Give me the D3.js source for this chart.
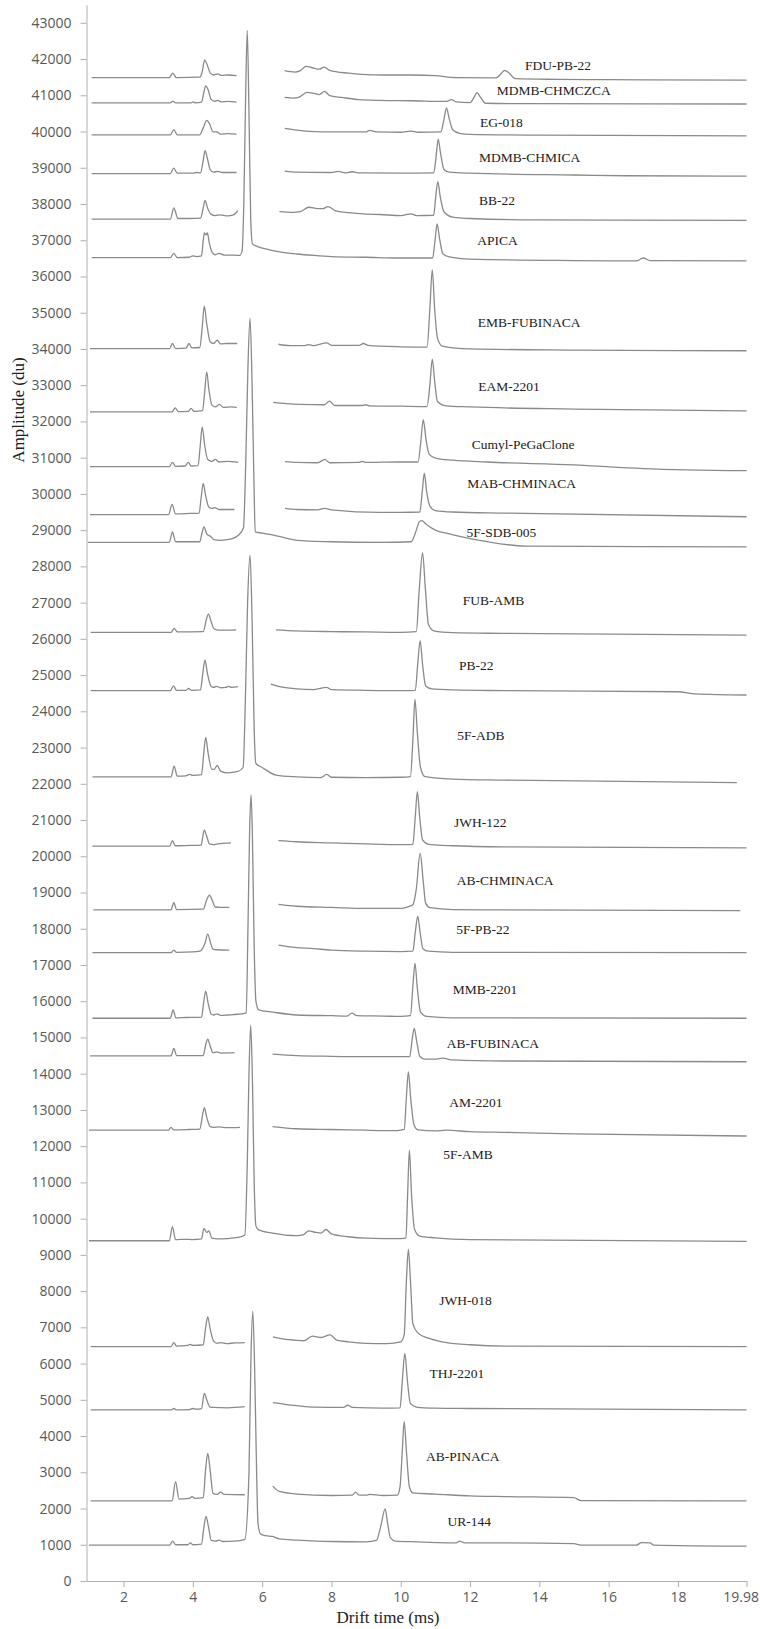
<!DOCTYPE html>
<html>
<head>
<meta charset="utf-8">
<script src="https://cdn.jsdelivr.net/npm/d3@7"></script>
<style>
  html, body { margin: 0; padding: 0; background: #fff; }
  svg { display: block; }
</style>
</head>
<body>
<svg id="chart" width="760" height="1629"></svg>
<script>
// Ion mobility spectra of 25 synthetic cannabinoids, stacked by amplitude offset.
// Each trace: list of segments, each segment a list of [drift time (ms), amplitude (du)].

const compoundNames = [
  "FDU-PB-22", "MDMB-CHMCZCA", "EG-018", "MDMB-CHMICA", "BB-22", "APICA",
  "EMB-FUBINACA", "EAM-2201", "Cumyl-PeGaClone", "MAB-CHMINACA", "5F-SDB-005",
  "FUB-AMB", "PB-22", "5F-ADB", "JWH-122", "AB-CHMINACA", "5F-PB-22", "MMB-2201",
  "AB-FUBINACA", "AM-2201", "5F-AMB", "JWH-018", "THJ-2201", "AB-PINACA", "UR-144"
];

const fduPb22 = [
  [[1.08,41490],[3.32,41490],[3.42,41610],[3.52,41490],[4.2,41500],[4.27,41650],[4.34,41980],[4.41,41850],[4.5,41620],[4.6,41560],[4.72,41590],[4.82,41550],[5.0,41560],[5.26,41540]],
  [[6.65,41680],[6.95,41640],[7.1,41680],[7.27,41800],[7.45,41760],[7.65,41720],[7.79,41780],[7.95,41690],[8.5,41610],[9.0,41570],[9.5,41560],[10.3,41560],[11.0,41540],[11.6,41490],[12.75,41480],[12.9,41600],[13.0,41690],[13.12,41620],[13.3,41460],[14.5,41440],[16.0,41430],[19.98,41420]]
];
const mdmbChmczca = [
  [[1.08,40790],[3.35,40790],[3.42,40840],[3.5,40790],[3.95,40790],[4.0,40820],[4.08,40790],[4.25,40810],[4.31,41050],[4.37,41260],[4.44,41150],[4.52,40900],[4.62,40830],[4.72,40860],[4.82,40820],[5.0,40830],[5.26,40810]],
  [[6.65,40940],[6.9,40920],[7.05,40940],[7.3,41080],[7.5,41050],[7.65,41020],[7.8,41110],[7.95,40990],[8.3,40940],[8.8,40880],[9.4,40860],[10.3,40850],[11.3,40830],[11.47,40880],[11.6,40820],[12.0,40800],[12.12,40950],[12.2,41070],[12.3,40950],[12.45,40780],[13.5,40770],[19.98,40760]]
];
const eg018 = [
  [[1.08,39910],[3.35,39910],[3.45,40050],[3.55,39910],[4.2,39910],[4.3,40100],[4.4,40310],[4.48,40220],[4.58,39990],[4.7,39990],[4.8,39930],[5.0,39940],[5.26,39930]],
  [[6.65,40090],[7.0,40040],[7.5,40000],[8.0,39990],[9.0,39990],[9.1,40030],[9.3,39990],[10.0,39980],[10.3,40010],[10.5,39980],[11.16,39990],[11.24,40300],[11.32,40650],[11.4,40350],[11.5,40050],[11.7,39950],[12.0,39920],[14.0,39900],[19.98,39880]]
];
const mdmbChmica = [
  [[1.08,38840],[3.35,38840],[3.45,38990],[3.55,38850],[4.0,38850],[4.1,38870],[4.22,38860],[4.29,39150],[4.35,39470],[4.42,39250],[4.5,38950],[4.6,38880],[4.72,38900],[4.85,38870],[5.26,38870]],
  [[6.65,38910],[7.0,38880],[8.0,38870],[8.2,38900],[8.4,38860],[8.6,38890],[8.8,38860],[10.0,38850],[10.95,38860],[11.02,39300],[11.08,39790],[11.15,39400],[11.25,38950],[11.4,38880],[12.0,38850],[15.0,38800],[16.5,38780],[19.98,38770]]
];
const bb22 = [
  [[1.08,37580],[3.35,37580],[3.45,37890],[3.57,37600],[3.9,37600],[4.22,37610],[4.29,37850],[4.35,38100],[4.42,37900],[4.52,37720],[4.65,37680],[4.78,37700],[5.0,37670],[5.15,37690],[5.25,37760],[5.3,37820]],
  [[6.5,37790],[6.9,37770],[7.1,37790],[7.35,37910],[7.6,37870],[7.75,37870],[7.9,37930],[8.1,37820],[8.5,37760],[9.0,37720],[9.4,37710],[10.0,37680],[10.3,37730],[10.45,37680],[10.95,37690],[11.01,38200],[11.07,38620],[11.14,38200],[11.25,37780],[11.5,37640],[12.0,37600],[14.0,37560],[19.98,37550]]
];
const apica = [
  [[1.08,36520],[3.35,36520],[3.45,36640],[3.55,36520],[3.9,36530],[4.0,36570],[4.1,36550],[4.25,36570],[4.3,37000],[4.33,37200],[4.38,37150],[4.42,37200],[4.47,36950],[4.55,36680],[4.65,36600],[4.75,36640],[4.9,36590],[5.2,36590],[5.35,36580],[5.42,36700],[5.47,38000],[5.52,40800],[5.57,42790],[5.62,40500],[5.67,37600],[5.72,36900],[5.85,36830],[6.1,36760],[6.5,36680],[7.0,36620],[7.5,36580],[8.0,36550],[9.0,36530],[10.0,36510],[10.92,36510],[10.99,37000],[11.05,37450],[11.12,37050],[11.22,36620],[11.4,36540],[12.0,36480],[15.0,36440],[16.8,36430],[17.0,36510],[17.2,36440],[19.98,36430]]
];
const embFubinaca = [
  [[1.03,34010],[3.33,34010],[3.41,34150],[3.5,34010],[3.8,34020],[3.89,34150],[3.97,34030],[4.2,34040],[4.27,34600],[4.33,35180],[4.4,34700],[4.5,34200],[4.6,34150],[4.7,34240],[4.8,34140],[5.0,34150],[5.28,34150]],
  [[6.47,34130],[6.8,34090],[7.2,34090],[7.34,34120],[7.5,34090],[7.86,34170],[8.0,34100],[8.8,34100],[8.92,34150],[9.05,34100],[10.0,34060],[10.76,34050],[10.84,35100],[10.91,36180],[10.98,35100],[11.06,34300],[11.2,34080],[12.0,34000],[15.0,33970],[19.98,33950]]
];
const eam2201 = [
  [[1.03,32265],[3.4,32265],[3.49,32375],[3.58,32270],[3.87,32280],[3.95,32360],[4.03,32280],[4.28,32300],[4.34,32800],[4.4,33370],[4.46,32900],[4.55,32450],[4.65,32400],[4.77,32470],[4.88,32390],[5.1,32400],[5.27,32390]],
  [[6.32,32525],[6.7,32490],[7.1,32470],[7.8,32460],[7.94,32560],[8.1,32440],[8.9,32440],[9.0,32460],[9.1,32430],[10.0,32420],[10.76,32410],[10.84,33000],[10.91,33720],[10.98,33100],[11.06,32550],[11.3,32430],[12.0,32400],[15.0,32340],[19.98,32290]]
];
const cumylPegaclone = [
  [[1.03,30750],[3.32,30750],[3.41,30870],[3.5,30760],[3.78,30770],[3.87,30870],[3.95,30770],[4.15,30780],[4.21,31300],[4.27,31850],[4.34,31350],[4.43,30950],[4.55,30900],[4.65,30950],[4.75,30880],[5.0,30900],[5.31,30870]],
  [[6.66,30890],[7.0,30870],[7.6,30860],[7.81,30950],[7.95,30860],[8.8,30870],[8.88,30900],[9.0,30870],[10.0,30880],[10.5,30880],[10.58,31450],[10.65,32050],[10.73,31500],[10.82,31100],[11.0,30990],[11.5,30930],[12.5,30880],[15.0,30800],[17.0,30700],[19.98,30640]]
];
const mabChminaca = [
  [[1.03,29430],[3.3,29430],[3.4,29710],[3.5,29450],[3.9,29460],[4.18,29470],[4.24,29900],[4.3,30290],[4.37,29950],[4.46,29640],[4.55,29600],[4.63,29620],[4.75,29570],[5.2,29570]],
  [[6.66,29600],[7.0,29570],[7.6,29560],[7.8,29600],[8.0,29560],[9.4,29490],[10.0,29490],[10.55,29500],[10.62,30050],[10.68,30570],[10.75,30050],[10.85,29650],[11.0,29540],[11.5,29500],[13.0,29470],[19.98,29370]]
];
const sdb005 = [
  [[0.97,28660],[3.32,28660],[3.41,28950],[3.5,28680],[4.2,28680],[4.26,28900],[4.32,29090],[4.4,28900],[4.52,28820],[4.6,28740],[4.8,28720],[5.0,28740],[5.16,28770],[5.3,28850],[5.46,29060],[5.53,31000],[5.59,33500],[5.65,34850],[5.71,33000],[5.76,30500],[5.8,28950],[6.0,28920],[6.3,28870],[7.0,28720],[8.0,28680],[9.4,28660],[10.3,28680],[10.45,29000],[10.53,29220],[10.6,29260],[10.75,29150],[11.0,29000],[11.4,28900],[11.8,28810],[12.5,28680],[13.6,28560],[19.98,28540]]
];
const fubAmb = [
  [[1.05,26180],[3.37,26180],[3.46,26290],[3.55,26190],[4.3,26200],[4.38,26500],[4.45,26680],[4.52,26500],[4.6,26290],[4.68,26250],[4.8,26240],[5.25,26250]],
  [[6.4,26250],[7.0,26220],[8.0,26200],[9.0,26190],[10.0,26180],[10.45,26200],[10.53,27300],[10.63,28375],[10.71,27400],[10.8,26400],[10.95,26220],[11.5,26170],[13.0,26150],[19.98,26100]]
];
const pb22 = [
  [[1.05,24570],[3.35,24570],[3.44,24700],[3.53,24580],[3.8,24580],[3.88,24630],[3.96,24580],[4.22,24590],[4.28,25000],[4.35,25410],[4.42,25050],[4.52,24700],[4.6,24660],[4.68,24690],[4.8,24650],[4.95,24660],[5.03,24690],[5.12,24660],[5.3,24680]],
  [[6.25,24750],[6.5,24680],[7.0,24620],[7.5,24600],[7.86,24660],[8.0,24600],[9.0,24580],[10.0,24570],[10.42,24580],[10.49,25300],[10.56,25950],[10.63,25300],[10.72,24700],[10.9,24620],[11.5,24590],[13.0,24570],[18.0,24540],[18.5,24480],[19.98,24450]]
];
const adb5f = [
  [[1.1,22190],[3.37,22190],[3.46,22490],[3.55,22210],[3.8,22220],[3.9,22260],[4.0,22230],[4.25,22250],[4.31,22800],[4.37,23280],[4.44,22850],[4.55,22400],[4.62,22400],[4.7,22510],[4.8,22350],[5.0,22300],[5.3,22340],[5.45,22450],[5.52,24500],[5.58,27000],[5.65,28310],[5.71,26500],[5.77,23500],[5.82,22560],[6.0,22450],[6.4,22240],[7.0,22190],[7.7,22170],[7.86,22260],[8.0,22180],[9.0,22170],[10.0,22180],[10.28,22200],[10.35,23200],[10.41,24330],[10.48,23400],[10.57,22450],[10.7,22200],[11.5,22130],[13.0,22100],[19.7,22030]]
];
const jwh122 = [
  [[1.1,20280],[3.33,20280],[3.41,20430],[3.49,20290],[3.9,20300],[4.24,20310],[4.28,20500],[4.33,20720],[4.4,20550],[4.48,20340],[4.6,20320],[4.7,20340],[5.1,20370]],
  [[6.47,20430],[7.0,20400],[8.0,20370],[9.0,20340],[10.0,20320],[10.35,20330],[10.42,21100],[10.48,21780],[10.55,21050],[10.63,20450],[10.8,20330],[11.5,20290],[13.0,20260],[19.98,20230]]
];
const abChminaca = [
  [[1.13,18520],[3.37,18520],[3.45,18720],[3.53,18530],[4.3,18540],[4.4,18800],[4.48,18930],[4.56,18780],[4.65,18600],[4.8,18590],[5.05,18590]],
  [[6.47,18670],[7.0,18620],[8.0,18590],[9.0,18560],[10.0,18560],[10.25,18620],[10.35,18660],[10.45,19100],[10.56,20080],[10.65,19300],[10.72,18700],[10.85,18580],[11.5,18530],[13.0,18520],[19.8,18500]]
];
const pb22f5 = [
  [[1.1,17340],[3.37,17340],[3.45,17410],[3.53,17350],[4.0,17360],[4.2,17380],[4.35,17600],[4.43,17850],[4.5,17650],[4.58,17440],[4.7,17420],[5.05,17410]],
  [[6.47,17550],[6.8,17500],[7.5,17450],[8.0,17410],[9.0,17380],[10.0,17370],[10.35,17380],[10.42,17900],[10.49,18350],[10.56,17900],[10.64,17450],[10.8,17380],[11.5,17350],[19.98,17340]]
];
const mmb2201 = [
  [[1.1,15530],[3.35,15530],[3.43,15760],[3.51,15540],[3.8,15550],[4.25,15560],[4.31,15950],[4.37,16280],[4.44,15950],[4.53,15640],[4.6,15620],[4.7,15650],[4.8,15610],[5.0,15620],[5.3,15640],[5.54,15680],[5.59,18000],[5.64,20800],[5.68,21690],[5.72,20500],[5.77,17500],[5.82,16000],[5.9,15760],[6.3,15700],[7.0,15620],[8.0,15600],[8.45,15590],[8.59,15670],[8.73,15600],[9.5,15590],[10.0,15580],[10.28,15600],[10.35,16400],[10.41,17050],[10.48,16350],[10.57,15700],[10.75,15580],[11.5,15540],[19.98,15530]]
];
const abFubinaca = [
  [[1.03,14490],[3.37,14490],[3.45,14700],[3.53,14500],[4.3,14500],[4.37,14800],[4.43,14950],[4.5,14760],[4.58,14580],[4.7,14600],[4.8,14570],[5.2,14580]],
  [[6.3,14540],[7.0,14500],[8.0,14480],[9.0,14470],[10.0,14470],[10.26,14470],[10.33,14950],[10.39,15250],[10.46,14900],[10.55,14480],[10.7,14400],[11.0,14400],[11.2,14430],[11.5,14380],[13.0,14350],[19.98,14330]]
];
const am2201 = [
  [[1.0,12445],[3.3,12445],[3.37,12520],[3.45,12450],[3.9,12460],[4.2,12470],[4.27,12800],[4.33,13060],[4.4,12800],[4.5,12540],[4.6,12520],[4.75,12530],[5.0,12510],[5.36,12520]],
  [[6.3,12540],[7.0,12480],[8.0,12460],[9.0,12440],[9.9,12430],[10.1,12460],[10.16,13300],[10.22,14050],[10.29,13300],[10.38,12600],[10.5,12450],[11.0,12420],[11.3,12440],[12.0,12400],[13.0,12380],[15.0,12340],[19.98,12280]]
];
const amb5f = [
  [[1.0,9390],[3.32,9390],[3.41,9780],[3.5,9420],[3.8,9430],[4.0,9420],[4.25,9440],[4.32,9730],[4.4,9620],[4.46,9660],[4.55,9460],[4.7,9440],[5.0,9450],[5.3,9480],[5.5,9550],[5.57,11500],[5.62,14000],[5.67,15340],[5.72,13800],[5.77,11000],[5.82,9800],[5.9,9690],[6.3,9600],[7.0,9530],[7.2,9560],[7.34,9660],[7.55,9620],[7.7,9600],[7.84,9700],[8.0,9580],[8.5,9500],[9.0,9460],[9.5,9450],[10.0,9450],[10.15,9470],[10.2,10700],[10.25,11890],[10.31,10700],[10.4,9700],[10.55,9520],[11.0,9470],[12.0,9420],[19.98,9370]]
];
const jwh018 = [
  [[1.05,6470],[3.37,6470],[3.45,6580],[3.53,6480],[3.85,6500],[3.92,6530],[4.0,6500],[4.3,6520],[4.37,7000],[4.43,7290],[4.5,6950],[4.6,6620],[4.7,6560],[4.8,6580],[5.0,6550],[5.2,6570],[5.5,6580]],
  [[6.31,6740],[6.6,6680],[7.0,6640],[7.2,6630],[7.45,6760],[7.7,6720],[7.96,6790],[8.15,6650],[8.5,6600],[9.0,6560],[9.6,6550],[10.0,6600],[10.1,6800],[10.16,8200],[10.22,9150],[10.28,8300],[10.35,7100],[10.5,6840],[10.8,6700],[11.2,6600],[12.0,6520],[13.0,6480],[19.98,6470]]
];
const thj2201 = [
  [[1.05,4720],[3.37,4720],[3.45,4760],[3.53,4720],[3.9,4730],[4.0,4760],[4.1,4740],[4.25,4760],[4.33,5180],[4.4,5000],[4.5,4800],[4.6,4790],[5.0,4780],[5.5,4810]],
  [[6.31,4920],[6.7,4870],[7.0,4840],[7.5,4800],[8.35,4790],[8.47,4850],[8.6,4790],[9.5,4770],[9.98,4780],[10.05,5600],[10.12,6280],[10.19,5550],[10.28,4900],[10.45,4800],[11.0,4770],[12.0,4760],[19.98,4720]]
];
const abPinaca = [
  [[1.05,2210],[3.4,2210],[3.5,2740],[3.6,2260],[3.9,2280],[3.98,2330],[4.06,2280],[4.3,2300],[4.37,3100],[4.43,3520],[4.5,3050],[4.58,2420],[4.7,2390],[4.8,2450],[4.9,2390],[5.5,2380]],
  [[6.31,2620],[6.5,2470],[7.0,2400],[8.0,2360],[8.6,2370],[8.7,2450],[8.8,2370],[9.0,2370],[9.1,2390],[9.5,2360],[9.9,2370],[9.98,2600],[10.04,3500],[10.1,4400],[10.17,3500],[10.25,2600],[10.35,2430],[11.0,2400],[12.0,2350],[13.0,2330],[15.0,2300],[15.2,2220],[19.98,2210]]
];
const ur144 = [
  [[1.0,990],[3.33,990],[3.42,1100],[3.5,1000],[3.85,1000],[3.93,1050],[4.0,1000],[4.25,1020],[4.32,1500],[4.38,1780],[4.45,1500],[4.53,1120],[4.65,1100],[4.75,1130],[4.85,1090],[5.2,1100],[5.5,1150],[5.62,3000],[5.68,6300],[5.73,7450],[5.78,6000],[5.83,3500],[5.88,1600],[5.95,1300],[6.1,1250],[6.3,1230],[6.5,1160],[7.0,1130],[8.0,1090],[9.0,1080],[9.3,1120],[9.42,1500],[9.55,1990],[9.62,1600],[9.7,1200],[9.85,1100],[10.5,1080],[11.6,1050],[11.7,1100],[11.85,1050],[13.0,1050],[15.0,1030],[15.2,990],[16.8,990],[16.95,1060],[17.2,1050],[17.3,990],[19.98,960]]
];

// Label anchors (drift time, amplitude) for each compound name
const labelDrift = [13.59, 12.77, 12.29, 12.26, 12.26, 12.21, 12.22, 12.24, 12.05, 11.92, 11.90,
  11.79, 11.68, 11.63, 11.54, 11.62, 11.60, 11.50, 11.33, 11.40, 11.23, 11.11, 10.83, 10.73, 11.35];
const labelAmplitude = [41810, 41120, 40240, 39286, 38107, 36984, 34733, 32975, 31366, 30290, 28938,
  27051, 25276, 23345, 20925, 19343, 17991, 16327, 14837, 13198, 11783, 7754, 5731, 3430, 1650];

const xTickValues = [2, 4, 6, 8, 10, 12, 14, 16, 18, 19.98];
const yTickValues = d3.range(0, 43001, 1000);

const traceSegments = [fduPb22, mdmbChmczca, eg018, mdmbChmica, bb22, apica, embFubinaca,
  eam2201, cumylPegaclone, mabChminaca, sdb005, fubAmb, pb22, adb5f, jwh122, abChminaca,
  pb22f5, mmb2201, abFubinaca, am2201, amb5f, jwh018, thj2201, abPinaca, ur144];

const traces = compoundNames.map((name, i) => ({
  name, segments: traceSegments[i], lx: labelDrift[i], ly: labelAmplitude[i]
}));

const svg = d3.select("#chart");
const x = d3.scaleLinear().domain([0.93, 19.98]).range([86.5, 746.5]);
const y = d3.scaleLinear().domain([0, 43500]).range([1581, 4.7]);

const axisColor = "#b0b0b0";
const tickText = "#595959";

// y axis
const gy = svg.append("g").attr("transform", `translate(${x.range()[0]},0)`)
  .call(d3.axisLeft(y).tickValues(yTickValues).tickFormat(d3.format("d"))
    .tickSize(6).tickSizeOuter(0).tickPadding(9));
gy.select(".domain").attr("stroke", axisColor);
gy.selectAll(".tick line").attr("stroke", axisColor);
gy.selectAll(".tick text").attr("fill", tickText)
  .style("font-family", "'Open Sans', sans-serif").style("font-size", "14px");

// x axis
const gx = svg.append("g").attr("transform", `translate(0,${y(0)})`)
  .call(d3.axisBottom(x).tickValues(xTickValues).tickFormat(d => d === 19.98 ? "19.98" : d3.format("d")(d))
    .tickSize(6).tickSizeOuter(0).tickPadding(5));
gx.select(".domain").attr("stroke", axisColor);
gx.selectAll(".tick line").attr("stroke", axisColor);
gx.selectAll(".tick text").attr("fill", tickText)
  .style("font-family", "'Open Sans', sans-serif").style("font-size", "14px");
// keep the end label inside the canvas
gx.selectAll(".tick text").filter(d => d === 19.98)
  .attr("text-anchor", "end").attr("x", 12);

// spectra
const line = d3.line().x(d => x(d[0])).y(d => y(d[1])).curve(d3.curveMonotoneX);
const gTraces = svg.append("g");
traces.forEach(tr => {
  tr.segments.forEach(seg => {
    gTraces.append("path").attr("d", line(seg))
      .attr("fill", "none").attr("stroke", "#8a8a8a")
      .attr("stroke-width", 1.3).attr("stroke-linejoin", "round");
  });
});

// compound labels
svg.append("g").selectAll("text").data(traces).join("text")
  .attr("x", d => x(d.lx)).attr("y", d => y(d.ly))
  .attr("dominant-baseline", "central")
  .style("font-family", "'Liberation Serif', 'Times New Roman', serif")
  .style("font-size", "13.5px").attr("fill", "#222")
  .text(d => d.name);

// axis titles
svg.append("text")
  .attr("transform", "translate(18,410) rotate(-90)")
  .attr("text-anchor", "middle").attr("dominant-baseline", "central")
  .style("font-family", "'Liberation Serif', 'Times New Roman', serif")
  .style("font-size", "17px").attr("fill", "#222")
  .text("Amplitude (du)");

svg.append("text")
  .attr("x", 388).attr("y", 1617)
  .attr("text-anchor", "middle").attr("dominant-baseline", "central")
  .style("font-family", "'Liberation Serif', 'Times New Roman', serif")
  .style("font-size", "17px").attr("fill", "#222")
  .text("Drift time (ms)");
</script>
</body>
</html>
